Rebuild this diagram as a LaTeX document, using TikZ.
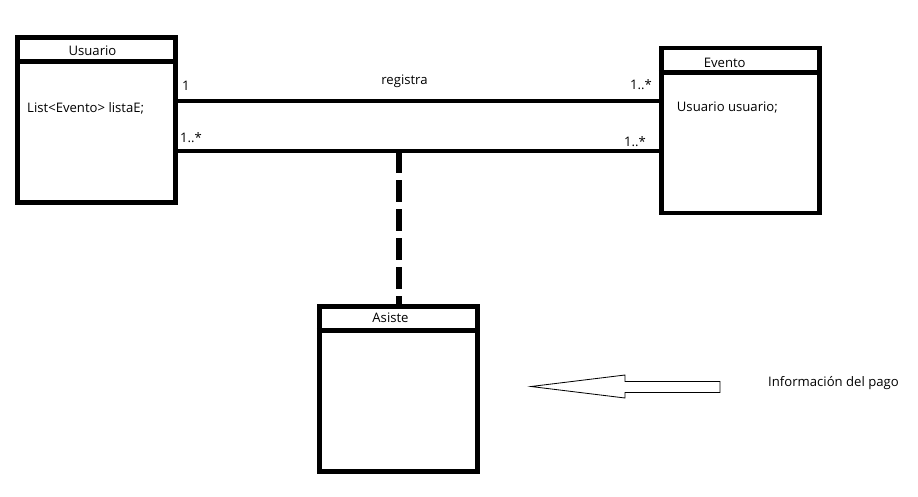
\documentclass[tikz,border=0pt]{standalone}
\usepackage{fontspec}
\setmainfont{Open Sans}
\usetikzlibrary{positioning}

\begin{document}
\begin{tikzpicture}[
  x=0.03cm, y=-0.03cm,
  cls/.style={rectangle, draw, line width=4pt, minimum width=4.74cm, minimum height=4.95cm, inner sep=0pt},
  txt/.style={font=\fontsize{11.2}{13}\selectfont, inner sep=0pt},
  assoc/.style={line width=3.6pt},
  link/.style={line width=4.4pt, dash pattern=on 0.66cm off 0.21cm},
  hdr/.style={line width=4pt},
]
\useasboundingbox (0,0) rectangle (918,496);

\node[cls] (usr) at (96.25,119.75) {};
\node[cls] (evt) at (740.25,130.5)  {};
\node[cls] (ast) at (398.25,389)    {};

\draw[hdr] ([yshift=-0.795cm]usr.north west) -- ([yshift=-0.795cm]usr.north east);
\draw[hdr] ([yshift=-0.81cm]evt.north west)  -- ([yshift=-0.81cm]evt.north east);
\draw[hdr] ([yshift=-0.795cm]ast.north west) -- ([yshift=-0.795cm]ast.north east);

\node[txt, anchor=base] (usrname) at (92.5,55)   {Usuario};
\node[txt, anchor=base west] (usrattr) at (27,112.7) {List<Evento> listaE;};
\node[txt, anchor=base] (evtname) at (724.7,67.3) {Evento};
\node[txt, anchor=base west] (evtattr) at (676.7,111.7) {Usuario usuario;};
\node[txt, anchor=base] (astname) at (390.5,322.3) {Asiste};

\coordinate (top) at (419,101);
\coordinate (bot) at (419,151);
\coordinate (joint) at (399,151);

\draw[assoc] (usr.east |- top) -- (top) -- (evt.west |- top);
\draw[assoc] (usr.east |- bot) -- (bot) -- (evt.west |- bot);
\draw[link] (joint) -- (joint |- ast.north);

\node[txt, anchor=base] (reg) at (404.5,84) {registra};
\node[txt, anchor=base west] (m1) at (182,90.7)  {1};
\node[txt, anchor=base west] (m2) at (180,142.7) {1..*};
\node[txt, anchor=base east] (m3) at (652,89.3)  {1..*};
\node[txt, anchor=base east] (m4) at (646,146)   {1..*};

\draw[line width=0.7pt] (531,386.5) -- (625,375) -- (625,381.5) -- (720,381.5)
  -- (720,392.5) -- (625,392.5) -- (625,398) -- cycle;
\node[txt, anchor=base west] (pago) at (768,386.7) {Información del pago};
\end{tikzpicture}
\end{document}
